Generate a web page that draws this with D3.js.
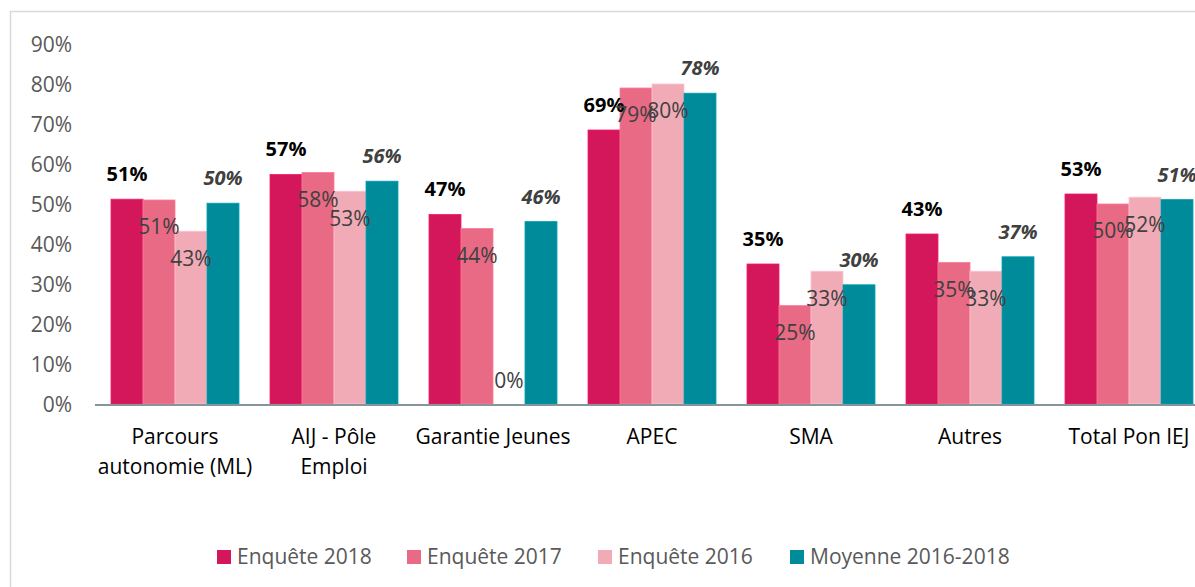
<!DOCTYPE html>
<meta charset="utf-8">
<style>
    body { margin: 0; background: #fff; }
    svg { font-family: "Open Sans", sans-serif; }
    .frame { fill: none; stroke: #d9d9d9; stroke-width: 1.5; }
    .y-axis text { fill: #595959; font-size: 21px; }
    .cat { fill: #000; font-size: 21px; }
    .legend text { fill: #595959; font-size: 21px; }
</style>

<svg width="1195" height="587"></svg>

<script src="https://d3js.org/d3.v7.min.js"></script>

<script>
// categories and series (values in %)
var categories = ["Parcours autonomie (ML)", "AIJ - Pôle Emploi", "Garantie Jeunes", "APEC", "SMA", "Autres", "Total Pon IEJ"];
var catLines = [["Parcours", "autonomie (ML)"], ["AIJ - Pôle", "Emploi"], ["Garantie Jeunes"], ["APEC"], ["SMA"], ["Autres"], ["Total Pon IEJ"]];
var seriesNames = ["Enquête 2018", "Enquête 2017", "Enquête 2016", "Moyenne 2016-2018"];
var enquete2018 = [51.2, 57.4, 47.4, 68.5, 35.0, 42.5, 52.5];
var enquete2017 = [51.0, 57.9, 43.9, 79.0, 24.6, 35.4, 50.0];
var enquete2016 = [43.2, 53.2, 0, 80.0, 33.2, 33.2, 51.7];
var moyenne = [50.2, 55.7, 45.6, 77.7, 29.8, 36.8, 51.1];
var yTicks = [0, 10, 20, 30, 40, 50, 60, 70, 80, 90];

var colors = ["#d4175a", "#e86a84", "#f0abb6", "#008b9a"];
var series = [enquete2018, enquete2017, enquete2016, moyenne];

var svg = d3.select("svg");

svg.append("rect").attr("class", "frame")
    .attr("x", 10.5).attr("y", 11.5).attr("width", 1220).attr("height", 620);

var x0 = d3.scaleBand()
    .domain(categories)
    .range([95.5, 95.5 + 7 * 159])
    .paddingInner(0.195)
    .paddingOuter(0.0975);

var x1 = d3.scaleBand()
    .domain(d3.range(seriesNames.length))
    .range([0, x0.bandwidth()]);

var y = d3.scaleLinear().domain([0, 90]).range([404, 44]);

// y axis labels
var yAxis = svg.append("g").attr("class", "y-axis")
    .attr("transform", "translate(80,0)")
    .call(d3.axisLeft(y).tickValues(yTicks).tickSize(0).tickPadding(8)
        .tickFormat(function(d) { return d + "%"; }));
yAxis.select(".domain").remove();
yAxis.selectAll("text").style("font-family", "Open Sans").attr("dy", "0.35em");

// bars
var groups = svg.append("g").selectAll("g")
    .data(categories)
    .enter().append("g")
    .attr("transform", function(d) { return "translate(" + x0(d) + ",0)"; });

groups.selectAll("rect")
    .data(function(d, i) { return series.map(function(s, k) { return { k: k, v: s[i] }; }); })
    .enter().append("rect")
    .attr("x", function(d) { return x1(d.k); })
    .attr("width", x1.bandwidth())
    .attr("y", function(d) { return y(d.v); })
    .attr("height", function(d) { return y(0) - y(d.v); })
    .attr("fill", function(d) { return colors[d.k]; })
    .attr("stroke", function(d) { return d3.color(colors[d.k]).brighter(0.4); })
    .attr("stroke-width", 0.8);

// baseline
svg.append("line")
    .attr("x1", 95).attr("x2", 1195)
    .attr("y1", y(0) + 1).attr("y2", y(0) + 1)
    .attr("stroke", "#86949c").attr("stroke-width", 2);

// value labels
groups.selectAll("text.val")
    .data(function(d, i) { return series.map(function(s, k) { return { k: k, v: s[i] }; }); })
    .enter().append("text")
    .attr("class", "val")
    .attr("text-anchor", "middle")
    .attr("x", function(d) { return x1(d.k) + x1.bandwidth() / 2; })
    .attr("y", function(d) {
        if (d.k === 0 || d.k === 3) return y(d.v) - 25;
        return Math.min(y(d.v) + 27, y(0) - 23);
    })
    .attr("dy", "0.35em")
    .style("font-size", function(d) { return (d.k === 0 || d.k === 3) ? "20px" : "21px"; })
    .style("font-weight", function(d) { return (d.k === 0 || d.k === 3) ? "bold" : "normal"; })
    .style("font-style", function(d) { return d.k === 3 ? "italic" : "normal"; })
    .attr("fill", function(d) { return d.k === 0 ? "#000" : "#404040"; })
    .text(function(d) { return Math.round(d.v) + "%"; });

// category labels
groups.append("text")
    .attr("class", "cat")
    .attr("text-anchor", "middle")
    .attr("x", x0.bandwidth() / 2)
    .attr("y", 437)
    .attr("dy", "0.35em")
    .selectAll("tspan")
    .data(function(d, i) { return catLines[i]; })
    .enter().append("tspan")
    .attr("x", x0.bandwidth() / 2)
    .attr("dy", function(d, j) { return j === 0 ? "0.35em" : "30px"; })
    .text(function(d) { return d; });

// legend
var legendX = [217, 407, 598, 790];
var legend = svg.append("g").attr("class", "legend")
    .selectAll("g")
    .data(seriesNames)
    .enter().append("g")
    .attr("transform", function(d, i) { return "translate(" + legendX[i] + ",557)"; });
legend.append("rect")
    .attr("x", 0).attr("y", -7).attr("width", 14).attr("height", 14)
    .attr("fill", function(d, i) { return colors[i]; });
legend.append("text")
    .attr("x", 20).attr("dy", "0.35em")
    .text(function(d) { return d; });
</script>
